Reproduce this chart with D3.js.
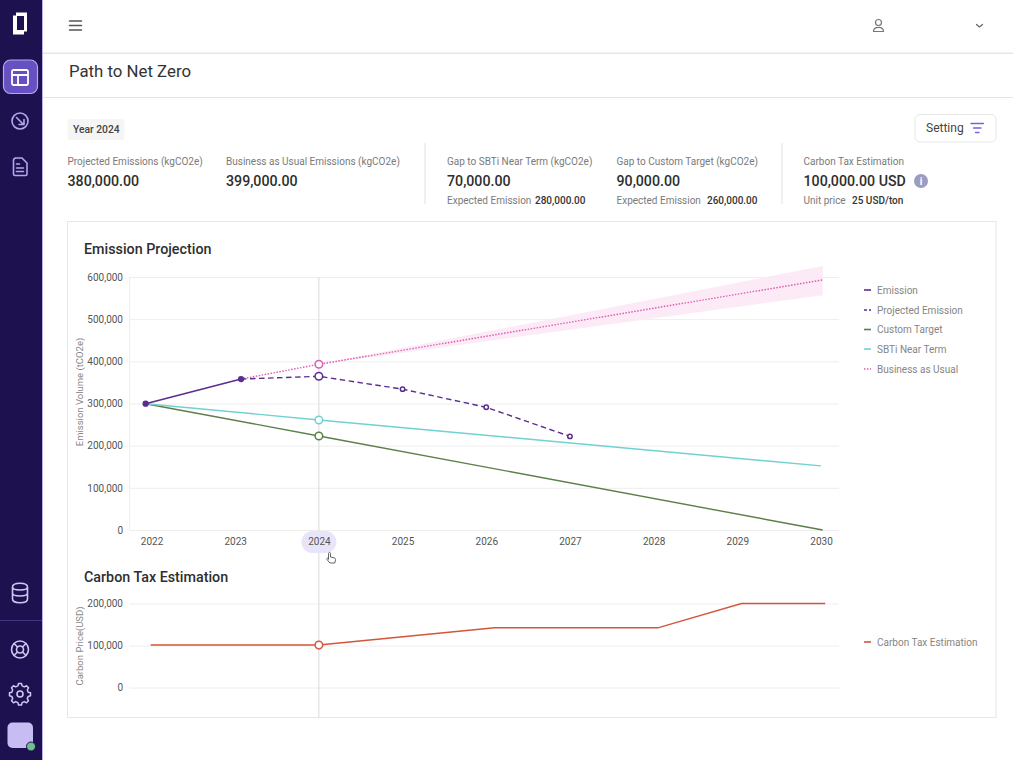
<!DOCTYPE html>
<html><head><meta charset="utf-8">
<style>
html,body{margin:0;padding:0;background:#fff;overflow:hidden}
svg{display:block}
text{font-family:Roboto,sans-serif}
.ax .domain{display:none}
.ax text{font-size:10px;fill:#555;font-family:Roboto,sans-serif}
</style>
<script src="https://cdn.jsdelivr.net/npm/d3@7/dist/d3.min.js"></script>
</head><body><svg id="c" width="1013" height="760"></svg>
<script>
// ---- data ----
const yearTicks=[2022,2023,2024,2025,2026,2027,2028,2029,2030];
const emissionTicks=[0,100000,200000,300000,400000,500000,600000];
const taxTicks=[0,100000,200000];
const emissionYears=[2021.93,2023.07];
const emissionValues=[299500,358000];
const projectedYears=[2023.07,2024,2025,2026,2027];
const projectedValues=[358000,364500,334000,291000,222000];
const customYears=[2021.93,2024,2030.02];
const customValues=[299500,223000,0];
const sbtiYears=[2021.93,2024,2030];
const sbtiValues=[299500,261000,152000];
const bauYears=[2023.07,2024,2030.02];
const bauValues=[358000,393000,593000];
const bandYears=[2024,2030.02];
const bandUpper=[393000,626000];
const bandLower=[393000,557000];
const taxYears=[2021.99,2024,2026.1,2028.05,2029.05,2030.05];
const taxValues=[101000,101000,142000,142000,200000,200000];
const legendTop=["Emission","Projected Emission","Custom Target","SBTi Near Term","Business as Usual"];
const legendBottom=["Carbon Tax Estimation"];
const kpiLabels=["Projected Emissions (kgCO2e)","Business as Usual Emissions (kgCO2e)","Gap to SBTi Near Term (kgCO2e)","Gap to Custom Target (kgCO2e)","Carbon Tax Estimation"];
const kpiValues=["380,000.00","399,000.00","70,000.00","90,000.00","100,000.00 USD"];
const kpiSubLabels=["","","Expected Emission","Expected Emission","Unit price"];
const kpiSubValues=["","","280,000.00","260,000.00","25 USD/ton"];

// ---- layout and style ----
const kpiX=[67.5,226,447,616.5,803.5], kpiSubX=[0,0,535,707,852];
const legendTopY=[290,310,329.5,349,369];
const colors={emission:"#5b2d8e",custom:"#5b7f47",sbti:"#6fd2d0",bau:"#e05ab2",band:"#fbe8f4",tax:"#d4553a"};
const legendStyle=[[colors.emission,null],[colors.emission,"3 2"],[colors.custom,null],[colors.sbti,null],[colors.bau,"1.5 1.5"]];
const svg=d3.select("#c");
const x=d3.scaleLinear().domain([2022,2030]).range([151.5,821]);
const y=d3.scaleLinear().domain([0,600000]).range([530,277]);
const y2=d3.scaleLinear().domain([0,200000]).range([687.5,603.5]);

function T(px,py,s,size,fill,weight,anchor){
  return svg.append("text").attr("x",px).attr("y",py).text(s).attr("font-size",size).attr("fill",fill)
    .attr("font-weight",weight||400).attr("text-anchor",anchor||"start");
}
function P(d,stroke,w,fill){return svg.append("path").attr("d",d).attr("stroke",stroke||"none").attr("stroke-width",w||1).attr("fill",fill||"none").attr("stroke-linecap","round").attr("stroke-linejoin","round");}

// sidebar
svg.append("rect").attr("width",42).attr("height",760).attr("fill","#1d1150");
svg.append("rect").attr("x",42).attr("width",1).attr("height",760).attr("fill","#b8b0e6");
P("M16 12.500h11v19h-3v3h-11v-19h3z",null,0,"#fff");
svg.append("rect").attr("x",17).attr("y",16).attr("width",7).attr("height",14).attr("fill","#1d1150");
svg.append("rect").attr("x",3.5).attr("y",60).attr("width",34).attr("height",33.5).attr("rx",7).attr("fill","#6650c2").attr("stroke","#b5aae8").attr("stroke-width",1.2);
P("M14 70h12.500a1.500 1.500 0 0 1 1.500 1.500v12a1.500 1.500 0 0 1-1.500 1.500h-13a1.500 1.500 0 0 1-1.500-1.500v-12a1.500 1.500 0 0 1 2-1.500zM12.500 75h15M18 75v10","#fff",1.8);
svg.append("circle").attr("cx",20).attr("cy",121).attr("r",8).attr("fill","none").attr("stroke","#b5a6ee").attr("stroke-width",1.6);
P("M16.500 117.500l7 7M24 119.500v5h-5","#b5a6ee",1.6);
P("M15 158h7l5 5v11a1.500 1.500 0 0 1-1.500 1.500h-10.500a1.500 1.500 0 0 1-1.500-1.500v-14a1.500 1.500 0 0 1 1.500-1.500zM16.500 164h3M16.500 168h7M16.500 171.500h7","#b5a6ee",1.6);
svg.append("rect").attr("y",620).attr("width",42).attr("height",1).attr("fill","#41367f");
P("M12.500 587c0-5 15-5 15 0v12c0 5-15 5-15 0zM12.500 587c0 4 15 4 15 0M12.500 593c0 4 15 4 15 0","#cfc8f2",1.6);
svg.append("circle").attr("cx",20).attr("cy",649.5).attr("r",8.5).attr("fill","none").attr("stroke","#cfc8f2").attr("stroke-width",1.6);
svg.append("circle").attr("cx",20).attr("cy",649.5).attr("r",3.5).attr("fill","none").attr("stroke","#cfc8f2").attr("stroke-width",1.6);
P("M14 643.500l3.500 3.500M26 643.500l-3.500 3.500M14 655.500l3.500-3.500M26 655.500l-3.500-3.500","#cfc8f2",1.6);
svg.append("circle").attr("cx",20).attr("cy",694).attr("r",3).attr("fill","none").attr("stroke","#cfc8f2").attr("stroke-width",1.6);
P("M18.500 685h3l.6 2.400 2.200 1 2.200-1.200 2 2.100-1.200 2.200.9 2.200 2.300.6v3l-2.300.6-.9 2.200 1.200 2.200-2 2-2.200-1.200-2.200 1-.6 2.400h-3l-.6-2.400-2.200-1-2.200 1.200-2-2 1.200-2.200-.9-2.200-2.300-.6v-3l2.300-.6.9-2.200-1.200-2.200 2-2.100 2.200 1.200 2.200-1z","#cfc8f2",1.5).attr("transform","translate(0,-1.500)");
svg.append("rect").attr("x",7.5).attr("y",722.5).attr("width",25.5).attr("height",25.5).attr("rx",5).attr("fill","#c7bdf3");
svg.append("circle").attr("cx",31).attr("cy",746.5).attr("r",4.5).attr("fill","#6fc08a").attr("stroke","#1d1150").attr("stroke-width",1);

// header
svg.append("rect").attr("x",43).attr("y",52.5).attr("width",970).attr("height",1.5).attr("fill","#e6e6e6");
P("M69.500 21h12M69.500 25.500h12M69.500 30h12","#555",1.5);
svg.append("circle").attr("cx",878.5).attr("cy",22.5).attr("r",3).attr("fill","none").attr("stroke","#777").attr("stroke-width",1.2);
P("M873.500 31.500c0-5.500 10-5.500 10 0z","#777",1.2);
P("M976.500 24.500l3 2.500 3-2.500","#666",1.2);
T(69,77,"Path to Net Zero",16.8,"#333");
svg.append("rect").attr("x",43).attr("y",97).attr("width",970).attr("height",1).attr("fill","#e4e4e4");

// KPI strip
svg.append("rect").attr("x",67.5).attr("y",119).attr("width",57).attr("height",21).attr("rx",3).attr("fill","#f5f5f5");
T(73,133,"Year 2024",10.3,"#444",500);
svg.selectAll(".kl").data(kpiLabels).join("text").attr("x",(d,i)=>kpiX[i]).attr("y",165).text(d=>d).attr("font-size",10).attr("fill","#7a7a7a");
svg.selectAll(".kv").data(kpiValues).join("text").attr("x",(d,i)=>kpiX[i]).attr("y",186).text(d=>d).attr("font-size",14.2).attr("font-weight",500).attr("fill","#2e2e2e");
kpiSubLabels.forEach((d,i)=>{ if(d){T(kpiX[i],203.5,d,10,"#7a7a7a");T(kpiSubX[i],203.5,kpiSubValues[i],10,"#333",500);} });
[424.5,781.5].forEach(v=>svg.append("rect").attr("x",v).attr("y",143).attr("width",1).attr("height",61).attr("fill","#e2e2e2"));
svg.append("circle").attr("cx",921).attr("cy",181).attr("r",7).attr("fill","#9c9cc0");
T(921,184.5,"i",10,"#fff",700,"middle");
svg.append("rect").attr("x",915).attr("y",114.5).attr("width",81).attr("height",27.5).attr("rx",5).attr("fill","#fff").attr("stroke","#e6e6e6");
T(926,132,"Setting",12,"#444");
P("M971 123.500h12.500M973.500 128h7.500M975.500 132.500h3.500","#7a63d8",1.3);

// card
svg.append("rect").attr("x",67.5).attr("y",221.5).attr("width",928.5).attr("height",496).attr("fill","#fff").attr("stroke","#e6e6e6");
T(84,254,"Emission Projection",14.3,"#2e2e2e",500);
T(84,582,"Carbon Tax Estimation",14.3,"#2e2e2e",500);

// axes
const gy=svg.append("g").attr("class","ax").attr("transform","translate(129.5,0)")
  .call(d3.axisLeft(y).tickValues(emissionTicks).tickFormat(d3.format(",")).tickSize(-709.5).tickPadding(6.5));
gy.selectAll("line").attr("stroke","#eeeeee");
svg.append("line").attr("x1",129.5).attr("x2",129.5).attr("y1",277).attr("y2",530).attr("stroke","#eeeeee");
const gy2=svg.append("g").attr("class","ax").attr("transform","translate(129.5,0)")
  .call(d3.axisLeft(y2).tickValues(taxTicks).tickFormat(d3.format(",")).tickSize(-709.5).tickPadding(6.5));
gy2.selectAll("line").attr("stroke","#eeeeee");
svg.append("line").attr("x1",x(2024)).attr("x2",x(2024)).attr("y1",277).attr("y2",717).attr("stroke","#d9d9d9").attr("stroke-width",1);
svg.append("rect").attr("x",x(2024)-17.5).attr("y",531).attr("width",35).attr("height",22).attr("rx",11).attr("fill","#e8e5fb");
const gx=svg.append("g").attr("class","ax").attr("transform","translate(0,530)")
  .call(d3.axisBottom(x).tickValues(yearTicks).tickFormat(d3.format("d")).tickSize(0).tickPadding(8));
T(0,0,"Emission Volume (tCO2e)",9.5,"#888",400,"middle").attr("transform","translate(83,392) rotate(-90)");
T(0,0,"Carbon Price(USD)",9.5,"#888",400,"middle").attr("transform","translate(83,646) rotate(-90)");

// marks
const zip=(a,b)=>a.map((v,i)=>[v,b[i]]);
const ln=(yy)=>d3.line().x(d=>x(d[0])).y(d=>yy(d[1]));
const band=d3.area().x(d=>x(d[0])).y0(d=>y(d[1])).y1(d=>y(d[2]));
svg.append("path").attr("d",band(bandYears.map((v,i)=>[v,bandLower[i],bandUpper[i]]))).attr("fill",colors.band).attr("fill-opacity",.85);
function series(xs,vs,color,dash,yy,w){
  return svg.append("path").attr("d",ln(yy||y)(zip(xs,vs))).attr("fill","none").attr("stroke",color).attr("stroke-width",w||1.4).attr("stroke-dasharray",dash);
}
function dot(yr,v,color,r,fill,yy){
  svg.append("circle").attr("cx",x(yr)).attr("cy",(yy||y)(v)).attr("r",r).attr("fill",fill).attr("stroke",color).attr("stroke-width",1.5);
}
series(bauYears,bauValues,colors.bau,"1.5 1.5");
series(customYears,customValues,colors.custom,null);
series(sbtiYears,sbtiValues,colors.sbti,null);
series(projectedYears,projectedValues,colors.emission,"5.5 3.5");
series(emissionYears,emissionValues,colors.emission,null,null,1.6);
series(taxYears,taxValues,colors.tax,null,y2,1.5);
emissionYears.forEach((v,i)=>dot(v,emissionValues[i],colors.emission,2.4,colors.emission));
projectedYears.slice(2).forEach((v,i)=>dot(v,projectedValues[i+2],colors.emission,2.2,"#fff"));
dot(2024,bauValues[1],colors.bau,3.8,"#fff");
dot(2024,projectedValues[1],colors.emission,3.8,"#fff");
dot(2024,sbtiValues[1],colors.sbti,3.8,"#fff");
dot(2024,customValues[1],colors.custom,3.8,"#fff");
dot(2024,taxValues[1],colors.tax,3.8,"#fff",y2);

// legends
legendTop.forEach((d,i)=>{
  svg.append("line").attr("x1",864).attr("x2",871).attr("y1",legendTopY[i]).attr("y2",legendTopY[i]).attr("stroke",legendStyle[i][0]).attr("stroke-width",1.6).attr("stroke-dasharray",legendStyle[i][1]);
  T(877,legendTopY[i]+3.6,d,10,"#858585");
});
legendBottom.forEach(d=>{
  svg.append("line").attr("x1",864).attr("x2",871).attr("y1",642).attr("y2",642).attr("stroke",colors.tax).attr("stroke-width",1.6);
  T(877,645.6,d,10,"#858585");
});

// pointer
P("M328.500 553.500c0-1.500 2-1.500 2 0v3.500l4 1c1 .3 1.200 1 1 2l-.7 3h-4.800l-3-3.500c-.8-1 .6-2 1.500-1l0 .5z","#555",.9,"#fff");
</script></body></html>
